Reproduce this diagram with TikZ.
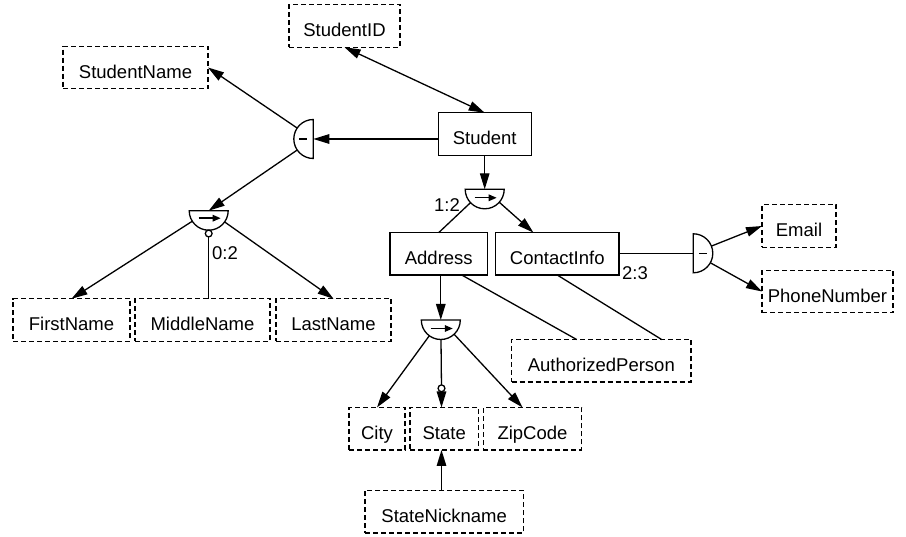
\documentclass[tikz,border=0pt]{standalone}
\usepackage{fontspec}
\setmainfont{Liberation Sans}
\usetikzlibrary{arrows.meta,calc}
\begin{document}
\begin{tikzpicture}[x=1pt,y=-1pt,
  every node/.style={font=\fontsize{18.5}{22}\selectfont},
  ent/.style={draw,rectangle,line width=1.3pt,minimum height=42.5pt,inner sep=0pt,outer sep=0pt,text height=21.2pt,text depth=0pt},
  attr/.style={ent,dash pattern=on 5pt off 3pt},
  conn/.style={line width=1.3pt},
  arr/.style={conn,-{Triangle[length=16pt,width=9.5pt]}},
  darr/.style={conn,{Triangle[length=16pt,width=9.5pt]}-{Triangle[length=16pt,width=9.5pt]}},
  jn/.style={circle,minimum size=39pt,inner sep=0pt,outer sep=0pt},
  opt/.style={circle,draw,fill=white,line width=1.3pt,minimum size=6.8pt,inner sep=0pt,outer sep=0pt},
  card/.style={inner sep=0pt},
  sym/.style={line width=1.3pt},
  symarr/.style={line width=1.4pt,-{Triangle[length=8pt,width=6.5pt]}},
]
\useasboundingbox (0,0) rectangle (906,537);

% entities and attributes
\node[attr,minimum width=111pt] (StudentID) at (344.5,26) {StudentID};
\node[attr,minimum width=145pt] (StudentName) at (135.5,67.5) {StudentName};
\node[ent,minimum width=93pt] (Student) at (484.7,134) {Student};
\node[ent,minimum width=97.7pt] (Address) at (438.8,253.8) {Address};
\node[ent,minimum width=123.3pt] (ContactInfo) at (557.3,253.8) {ContactInfo};
\node[attr,minimum width=74pt] (Email) at (799,226) {Email};
\node[attr,minimum width=131pt] (PhoneNumber) at (827.5,291.5) {PhoneNumber};
\node[attr,minimum width=179.3pt] (AuthorizedPerson) at (601.3,360.8) {AuthorizedPerson};
\node[attr,minimum width=117pt] (FirstName) at (71.5,320) {FirstName};
\node[attr,minimum width=135pt] (MiddleName) at (202.5,320) {MiddleName};
\node[attr,minimum width=115pt] (LastName) at (333.5,320) {LastName};
\node[attr,minimum width=56pt] (City) at (377,428.7) {City};
\node[attr,minimum width=68.3pt] (State) at (444.2,428.7) {State};
\node[attr,minimum width=98.4pt] (ZipCode) at (532.5,428.7) {ZipCode};
\node[attr,minimum width=158.3pt] (StateNickname) at (444.2,511.7) {StateNickname};

% junction symbols (semicircles)
\node[jn] (U0) at (313.3,139) {};
\node[jn] (UL) at (208.7,210.7) {};
\node[jn] (U1) at (484.7,189.3) {};
\node[jn] (U3) at (440.8,320) {};
\node[jn] (U2) at (693.3,253.3) {};

\draw[sym] (U0.north) arc[start angle=90,end angle=270,radius=19.5pt] -- cycle;
\draw[sym] (UL.west) arc[start angle=180,end angle=360,radius=19.5pt] -- cycle;
\draw[sym] (U1.west) arc[start angle=180,end angle=360,radius=19.5pt] -- cycle;
\draw[sym] (U3.west) arc[start angle=180,end angle=360,radius=19.5pt] -- cycle;
\draw[sym] (U2.south) arc[start angle=-90,end angle=90,radius=19.5pt] -- cycle;

\draw[sym] ($(U0.center)+(-14,0)$) -- ($(U0.center)+(-6,0)$);
\draw[sym] ($(U2.center)+(6,0)$) -- ($(U2.center)+(14,0)$);
\draw[symarr] ($(UL.center)+(-10,7.5)$) -- ($(UL.center)+(12,7.5)$);
\draw[symarr] ($(U1.center)+(-10,8.5)$) -- ($(U1.center)+(12,8.5)$);
\draw[symarr] ($(U3.center)+(-10,8.5)$) -- ($(U3.center)+(12,8.5)$);

% optional markers
\node[opt] (sL) at (208.7,233.5) {};
\node[opt] (s3) at (441.5,388.3) {};

% cardinality labels
\node[card] (c02) at (225,253) {0:2};
\node[card] (c12) at (447,205) {1:2};
\node[card] (c23) at (635,273) {2:3};

% connectors
\draw[darr] (StudentID.south) -- (Student.north);
\draw[arr] (U0.center -| Student.west) -- (U0.center);
\draw[arr] (U0) -- (StudentName.east);
\draw[arr] (U0) -- (UL.center);
\draw[arr] (UL) -- (FirstName.north);
\draw[arr] (UL) -- (LastName.north);
\draw[conn] (sL) -- (sL |- MiddleName.north);

\draw[arr] (Student) -- (U1.center);
\draw[conn] (U1) -- (Address.north);
\draw[arr] (U1) -- (ContactInfo);

\draw[arr] (U3.center |- Address.south) -- (U3.center);
\draw[arr] (U3) -- (City.north);
\draw[conn] (U3) -- (s3);
\draw[arr] (s3) -- (s3 |- State.north);
\draw[arr] (U3) -- ([xshift=-10pt]ZipCode.north);
\draw[arr] (s3 |- StateNickname.north) -- (s3 |- State.south);

\draw[conn] ([xshift=23pt]Address.south) -- ([xshift=-24.6pt]AuthorizedPerson.north);
\draw[conn] (ContactInfo.south) -- ([xshift=60.4pt]AuthorizedPerson.north);

\draw[conn] (U2.center -| ContactInfo.east) -- (U2.center);
\draw[arr] (U2) -- (Email.west);
\draw[arr] (U2) -- (PhoneNumber.west);
\end{tikzpicture}
\end{document}
